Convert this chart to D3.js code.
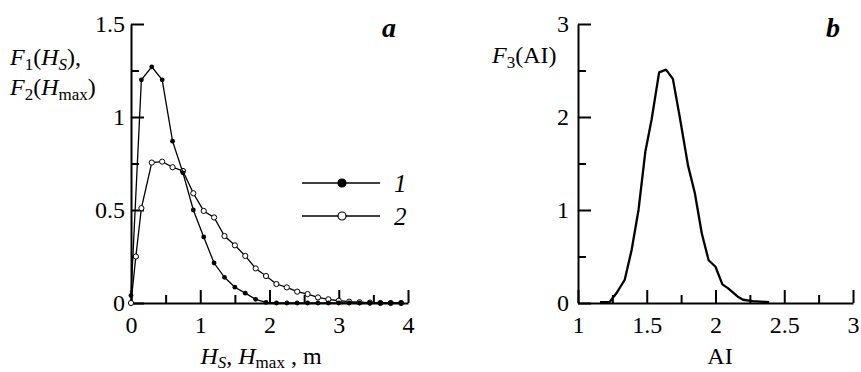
<!DOCTYPE html>
<html>
<head>
<meta charset="utf-8">
<script src="https://cdn.jsdelivr.net/npm/d3@7"></script>
<style>
  html, body { margin: 0; padding: 0; background: #fff; }
  svg text { font-family: "Liberation Serif", "Times New Roman", Tinos, "DejaVu Serif", serif; fill: #000; }
  .axis path, .axis line { stroke: #000; stroke-width: 2; }
  .axis text { font-size: 24px; }
</style>
</head>
<body>
<div id="chart"></div>
<script>
const WIDTH = 861;
const HEIGHT = 372;
const FONT = '"Liberation Serif", "Times New Roman", Tinos, "DejaVu Serif", serif';

// panel a: wave height distributions
const h1 = [0, 0.15, 0.3, 0.45, 0.6, 0.75, 0.9, 1.05, 1.2, 1.35, 1.5, 1.65, 1.8, 1.95,
  2.1, 2.25, 2.4, 2.55, 2.7, 2.85, 3.0, 3.15, 3.3, 3.45, 3.6, 3.75, 3.9];
const f1 = [0.04, 1.2, 1.27, 1.2, 0.87, 0.70, 0.50, 0.355, 0.215, 0.138, 0.085, 0.053, 0.02, 0.003,
  0, 0, 0, 0, 0, 0, 0, 0, 0, 0, 0, 0, 0];
const h2 = [0, 0.07, 0.15, 0.3, 0.45, 0.6, 0.75, 0.9, 1.05, 1.2, 1.35, 1.5, 1.65, 1.8, 1.95,
  2.1, 2.25, 2.4, 2.55, 2.7, 2.85, 3.0, 3.15, 3.3, 3.45, 3.6, 3.75, 3.9];
const f2 = [0, 0.25, 0.51, 0.755, 0.76, 0.73, 0.71, 0.59, 0.495, 0.46, 0.36, 0.31, 0.253, 0.186, 0.145,
  0.102, 0.084, 0.061, 0.048, 0.03, 0.02, 0.012, 0.007, 0.004, 0.002, 0, 0, 0];

// panel b: AI distribution
const ai = [1.16, 1.23, 1.28, 1.34, 1.39, 1.44, 1.49, 1.535, 1.59, 1.64, 1.69, 1.74, 1.80, 1.85,
  1.90, 1.95, 2.0, 2.05, 2.09, 2.16, 2.2, 2.27, 2.39];
const f3 = [0.01, 0.01, 0.107, 0.25, 0.57, 1.0, 1.63, 1.97, 2.48, 2.51, 2.41, 2.0, 1.48, 1.18,
  0.75, 0.46, 0.39, 0.2, 0.16, 0.07, 0.035, 0.02, 0.008];

const ticksA_x = [0, 1, 2, 3, 4];
const minorA_x = [0.5, 1.5, 2.5, 3.5];
const ticksA_y = [0, 0.5, 1, 1.5];
const minorA_y = [0.25, 0.75, 1.25];
const ticksB_x = [1, 1.5, 2, 2.5, 3];
const minorB_x = [1.25, 1.75, 2.25, 2.75];
const ticksB_y = [0, 1, 2, 3];
const minorB_y = [0.5, 1.5, 2.5];

const legendLabels = ['1', '2'];

const svg = d3.select('#chart')
  .append('svg')
  .attr('width', WIDTH)
  .attr('height', HEIGHT)
  .attr('font-family', FONT);

const xA = d3.scaleLinear().domain([0, 4]).range([131, 408]);
const yA = d3.scaleLinear().domain([0, 1.5]).range([303, 24]);
const xB = d3.scaleLinear().domain([1, 3]).range([578, 853]);
const yB = d3.scaleLinear().domain([0, 3]).range([303, 24]);

const fmt = d3.format('');

function drawAxes(x, y, tx, mx, ty, my, yPad) {
  const y0 = y.range()[0];
  const x0 = x.range()[0];
  // minor ticks
  svg.append('g').attr('class', 'axis')
    .attr('transform', `translate(0,${y0})`)
    .call(d3.axisBottom(x).tickValues(mx).tickSizeInner(-8).tickSizeOuter(0).tickFormat(''))
    .call(g => g.select('.domain').remove());
  svg.append('g').attr('class', 'axis')
    .attr('transform', `translate(${x0},0)`)
    .call(d3.axisLeft(y).tickValues(my).tickSizeInner(-8).tickSizeOuter(0).tickFormat(''))
    .call(g => g.select('.domain').remove());
  // major ticks + labels
  svg.append('g').attr('class', 'axis')
    .attr('transform', `translate(0,${y0})`)
    .call(d3.axisBottom(x).tickValues(tx).tickSizeInner(-13).tickSizeOuter(0).tickPadding(13).tickFormat(fmt))
    .attr('font-family', FONT);
  svg.append('g').attr('class', 'axis')
    .attr('transform', `translate(${x0},0)`)
    .call(d3.axisLeft(y).tickValues(ty).tickSizeInner(-13).tickSizeOuter(0).tickPadding(yPad).tickFormat(fmt))
    .attr('font-family', FONT);
}

drawAxes(xA, yA, ticksA_x, minorA_x, ticksA_y, minorA_y, 6);
drawAxes(xB, yB, ticksB_x, minorB_x, ticksB_y, minorB_y, 9);

// panel a curves
const lineA = d3.line().x(d => xA(d[0])).y(d => yA(d[1]));
const s1 = d3.zip(h1, f1);
const s2 = d3.zip(h2, f2);

svg.append('path').datum(s2)
  .attr('fill', 'none').attr('stroke', '#000').attr('stroke-width', 1.3)
  .attr('d', lineA);
svg.append('g').selectAll('circle').data(s2).join('circle')
  .attr('cx', d => xA(d[0])).attr('cy', d => yA(d[1])).attr('r', 2.6)
  .attr('fill', '#fff').attr('stroke', '#000').attr('stroke-width', 1);

svg.append('path').datum(s1)
  .attr('fill', 'none').attr('stroke', '#000').attr('stroke-width', 1.3)
  .attr('d', lineA);
svg.append('g').selectAll('circle').data(s1).join('circle')
  .attr('cx', d => xA(d[0])).attr('cy', d => yA(d[1])).attr('r', 2.4)
  .attr('fill', '#000');

// legend
const legend = svg.append('g');
legendLabels.forEach((lab, i) => {
  const ly = 183 + i * 33;
  legend.append('line').attr('x1', 302).attr('x2', 380).attr('y1', ly).attr('y2', ly)
    .attr('stroke', '#000').attr('stroke-width', 1.3);
  legend.append('circle').attr('cx', 342).attr('cy', ly).attr('r', 4)
    .attr('fill', i === 0 ? '#000' : '#fff').attr('stroke', '#000').attr('stroke-width', 1.2);
  legend.append('text').attr('x', 394).attr('y', ly + 9)
    .attr('font-size', 25).attr('font-style', 'italic').text(lab);
});

// panel b curve
svg.append('path').datum(d3.zip(ai, f3))
  .attr('fill', 'none').attr('stroke', '#000').attr('stroke-width', 2.3)
  .attr('stroke-linejoin', 'round')
  .attr('d', d3.line().x(d => xB(d[0])).y(d => yB(d[1])));

// panel letters
svg.append('text').attr('x', 382).attr('y', 37).attr('font-size', 28)
  .attr('font-style', 'italic').attr('font-weight', 'bold').text('a');
svg.append('text').attr('x', 826).attr('y', 37).attr('font-size', 28)
  .attr('font-style', 'italic').attr('font-weight', 'bold').text('b');

// text with sub parts
function part(t, s, opts) {
  const sp = t.append('tspan').text(s);
  if (opts.it) sp.attr('font-style', 'italic');
  if (opts.sub) sp.attr('font-size', 17);
  if (opts.dy) sp.attr('dy', opts.dy);
  return sp;
}
const yt1 = svg.append('text').attr('x', 10).attr('y', 65).attr('font-size', 24);
part(yt1, 'F', { it: true });
part(yt1, '1', { sub: true, dy: 5 });
part(yt1, '(', { dy: -5 });
part(yt1, 'H', { it: true });
part(yt1, 'S', { it: true, sub: true, dy: 5 });
part(yt1, '),', { dy: -5 });

const yt2 = svg.append('text').attr('x', 10).attr('y', 95).attr('font-size', 24);
part(yt2, 'F', { it: true });
part(yt2, '2', { sub: true, dy: 5 });
part(yt2, '(', { dy: -5 });
part(yt2, 'H', { it: true });
part(yt2, 'max', { sub: true, dy: 5 });
part(yt2, ')', { dy: -5 });

// x title panel a
const xt = svg.append('text').attr('x', 261).attr('y', 364).attr('font-size', 24)
  .attr('text-anchor', 'middle');
part(xt, 'H', { it: true });
part(xt, 'S', { it: true, sub: true, dy: 4 });
part(xt, ', ', { dy: -4 });
part(xt, 'H', { it: true });
part(xt, 'max', { sub: true, dy: 4 });
part(xt, ' , m', { dy: -4 });

// titles panel b
const yt3 = svg.append('text').attr('x', 492).attr('y', 63).attr('font-size', 24);
part(yt3, 'F', { it: true });
part(yt3, '3', { sub: true, dy: 5 });
part(yt3, '(AI)', { dy: -5 });

svg.append('text').attr('x', 720).attr('y', 364).attr('font-size', 24)
  .attr('text-anchor', 'middle').text('AI');
</script>
</body>
</html>
